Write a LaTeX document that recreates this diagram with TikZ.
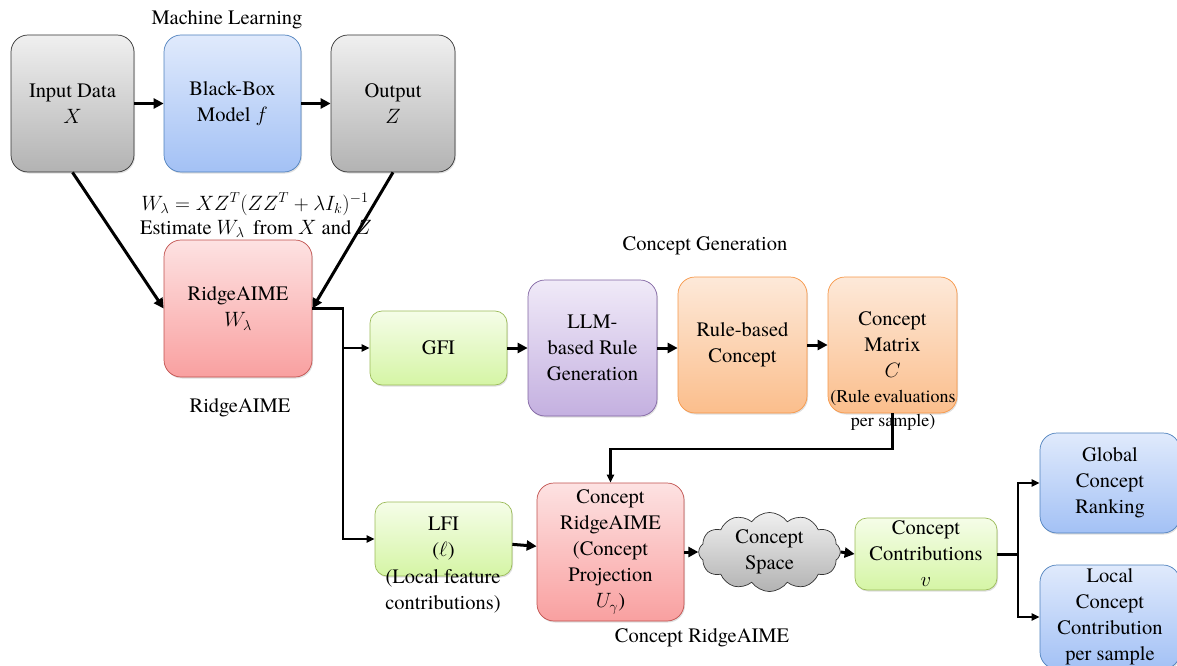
\documentclass[tikz,border=0pt]{standalone}
\usepackage{fontspec}
\setmainfont{texgyretermes}[Extension=.otf, UprightFont=*-regular, ItalicFont=*-italic, BoldFont=*-bold, BoldItalicFont=*-bolditalic]
\usetikzlibrary{arrows.meta,shapes.symbols,shadows}

\definecolor{bluedge}{HTML}{4F81BD}
\definecolor{rededge}{HTML}{C0504D}
\definecolor{grnedge}{HTML}{9BBB59}
\definecolor{purpedge}{HTML}{8064A2}
\definecolor{orgedge}{HTML}{F79646}

\tikzset{
  blk/.style={draw, rounded corners=17pt, align=center, inner sep=0pt, line width=0.7pt,
    drop shadow={opacity=0.25, shadow xshift=1pt, shadow yshift=-1.5pt}},
  graybox/.style={blk, draw=black!80, top color=black!6, bottom color=black!30},
  bluebox/.style={blk, draw=bluedge, top color={rgb,255:red,224;green,234;blue,252}, bottom color={rgb,255:red,163;green,193;blue,245}},
  redbox/.style={blk, draw=rededge, top color={rgb,255:red,253;green,226;blue,226}, bottom color={rgb,255:red,249;green,160;blue,160}},
  grnbox/.style={blk, rounded corners=12pt, draw=grnedge, top color={rgb,255:red,245;green,253;blue,232}, bottom color={rgb,255:red,213;green,245;blue,165}},
  purpbox/.style={blk, draw=purpedge, top color={rgb,255:red,240;green,234;blue,248}, bottom color={rgb,255:red,196;green,176;blue,224}},
  orgbox/.style={blk, draw=orgedge, top color={rgb,255:red,253;green,233;blue,217}, bottom color={rgb,255:red,251;green,190;blue,140}},
  thk/.style={->, line width=3pt},
  thn/.style={->, line width=2.2pt, >={Triangle[length=8pt,width=7pt]}},
}

\begin{document}
\begin{tikzpicture}[x=1pt, y=-1pt, >={Triangle[length=10pt,width=10pt]}, line join=miter,
  every node/.style={font=\fontsize{20.5}{26}\selectfont}]
  \useasboundingbox (0,0) rectangle (1177,666);

  % Machine Learning part
  \node[graybox, minimum width=123pt, minimum height=137pt] (inp) at (72.5,103.5) {Input Data\\ $X$};
  \node[bluebox, minimum width=137pt, minimum height=137pt] (bbm) at (232.5,103.5) {Black-Box\\ Model $f$};
  \node[graybox, minimum width=124pt, minimum height=137pt] (outp) at (393,103.5) {Output\\ $Z$};
  \node (mltxt) at (227,20) {Machine Learning};

  \draw[thk] (inp) -- (bbm);
  \draw[thk] (bbm) -- (outp);

  % RidgeAIME estimate
  \node (form) at (255,204) {$W_\lambda = XZ^T(ZZ^T+\lambda I_k)^{-1}$};
  \node (esttxt) at (256,229) {Estimate $W_\lambda$\, from $X$ and $Z$};
  \node[redbox, minimum width=148pt, minimum height=137pt] (ridge) at (238,308.5) {RidgeAIME\\ $W_\lambda$};
  \node (ridgetxt) at (240,408) {RidgeAIME};

  \draw[thk] (inp.south) -- (ridge.west);
  \draw[thk] (outp.south) -- (ridge.east);

  % Concept Generation
  \node[grnbox, minimum width=137pt, minimum height=74pt] (gfi) at (438.5,348) {GFI};
  \node[purpbox, minimum width=129pt, minimum height=136pt] (llm) at (592.5,348) {LLM-\\ based Rule\\ Generation};
  \node[orgbox, minimum width=129pt, minimum height=136pt] (rbc) at (742.5,345) {Rule-based\\ Concept};
  \node[orgbox, minimum width=129pt, minimum height=136pt] (cmat) at (892.5,345) {Concept\\ Matrix\\ $C$};
  \node[font=\fontsize{18}{24}\selectfont, align=center] (cmattxt) at (893,410) {(Rule evaluations\\ per sample)};
  \node (cgtxt) at (705,246) {Concept Generation};

  \draw[thn] (ridge.east) -- ++(31,0) coordinate (br) |- (gfi.west);
  \draw[thk] (gfi) -- (llm);
  \draw[thk] (llm.east) -- (llm.east -| rbc.west);
  \draw[thk] (rbc) -- (cmat);

  % Concept RidgeAIME
  \node[grnbox, minimum width=137pt, minimum height=74pt] (lfi) at (443.5,539) {LFI\\ ($\ell$)};
  \node[align=center] (lfitxt) at (443,591) {(Local feature\\ contributions)};
  \node[redbox, minimum width=147pt, minimum height=138pt] (cridge) at (610.5,552) {Concept\\ RidgeAIME\\ (Concept\\ Projection\\ $U_\gamma$)};
  \node (crtxt) at (702,638) {Concept RidgeAIME};
  \node[cloud, cloud puffs=12, cloud puff arc=110, aspect=2.2, draw=black!80, line width=0.7pt,
    top color=black!6, bottom color=black!30, align=center, inner sep=0pt,
    minimum width=133pt, minimum height=66pt] (cspace) at (769.5,552) {Concept\\ Space};
  \node[grnbox, minimum width=142pt, minimum height=72pt] (ccon) at (926,554) {Concept\\ Contributions\\ $v$};

  \draw[thn] (br) |- (lfi.west);
  \draw[thn] (cmat.south) -- ++(0,36) -| (cridge.north);
  \draw[thk] (lfi) -- (cridge);
  \draw[thk] (cridge.east) -- (cspace.west);
  \draw[thk] (cspace.east) -- (ccon.west);

  % Outputs
  \node[bluebox, minimum width=140pt, minimum height=100pt] (glob) at (1110,483) {Global\\ Concept\\ Ranking};
  \node[bluebox, minimum width=140pt, minimum height=104pt] (loc) at (1110,617) {Local\\ Concept\\ Contribution\\ per sample};

  \draw[line width=3pt] (ccon.east) -- ++(21,0) coordinate (sp);
  \draw[thn] (sp) |- (glob.west);
  \draw[thn] (sp) |- (loc.west);
\end{tikzpicture}
\end{document}
